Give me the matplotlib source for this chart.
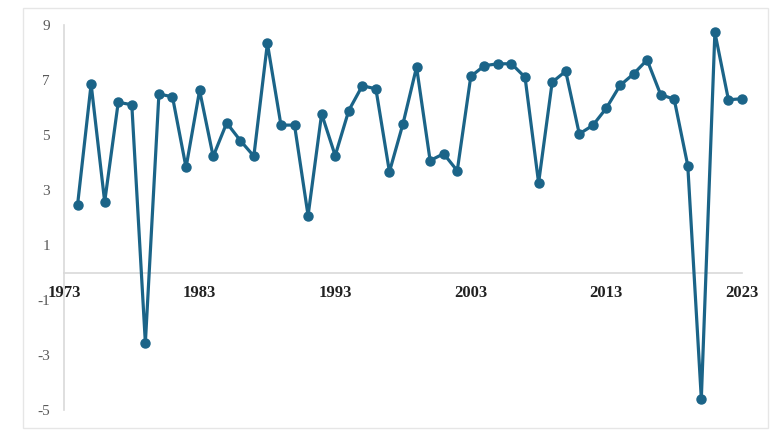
import numpy as np
import matplotlib.pyplot as plt
from matplotlib.patches import Rectangle

# annual growth values, 1974-2023
years = list(range(1974, 2024))
growth = [2.46, 6.85, 2.57, 6.19, 6.10, -2.56, 6.49, 6.39, 3.82, 6.62,
          4.22, 5.44, 4.80, 4.23, 8.33, 5.36, 5.36, 2.07, 5.77, 4.25,
          5.89, 6.79, 6.68, 3.66, 5.41, 7.47, 4.07, 4.32, 3.70, 7.13,
          7.52, 7.59, 7.59, 7.10, 3.26, 6.92, 7.32, 5.04, 5.35, 5.98,
          6.80, 7.22, 7.73, 6.47, 6.30, 3.89, -4.59, 8.73, 6.28, 6.32]
xticks = [1973, 1983, 1993, 2003, 2013, 2023]
yticks = [-5, -3, -1, 1, 3, 5, 7, 9]

line_color = '#1b6488'

fig = plt.figure(figsize=(7.72, 4.44), dpi=100)
fig.patches.append(Rectangle((23 / 772, 1 - 428 / 444), 745 / 772, 420 / 444,
                             transform=fig.transFigure, fill=False,
                             edgecolor='#e6e6e6', linewidth=1))
ax = fig.add_axes([64 / 772, 1 - 410 / 444, 678 / 772, 385 / 444])

ax.plot(years, growth, color=line_color, linewidth=2.3,
        marker='o', markersize=6.5, zorder=3, clip_on=False)

ax.set_xlim(1973, 2023)
ax.set_ylim(-5, 9)

for s in ['top', 'right']:
    ax.spines[s].set_visible(False)
ax.spines['left'].set_color('#d9d9d9')
ax.spines['bottom'].set_color('#d9d9d9')
ax.spines['bottom'].set_position(('data', 0))
ax.spines['left'].set_linewidth(1.2)
ax.spines['bottom'].set_linewidth(1.2)

ax.set_yticks(yticks)
ax.set_yticklabels([str(v) for v in yticks], fontfamily='Liberation Serif',
                   fontsize=11, color='#595959')
ax.set_xticks(xticks)
ax.set_xticklabels([str(v) for v in xticks], fontfamily='Liberation Serif',
                   fontsize=12, fontweight='bold', color='#222222')
ax.tick_params(axis='y', length=0, pad=10)
ax.tick_params(axis='x', length=0, pad=9)

fig.savefig('out.png', dpi=100)
